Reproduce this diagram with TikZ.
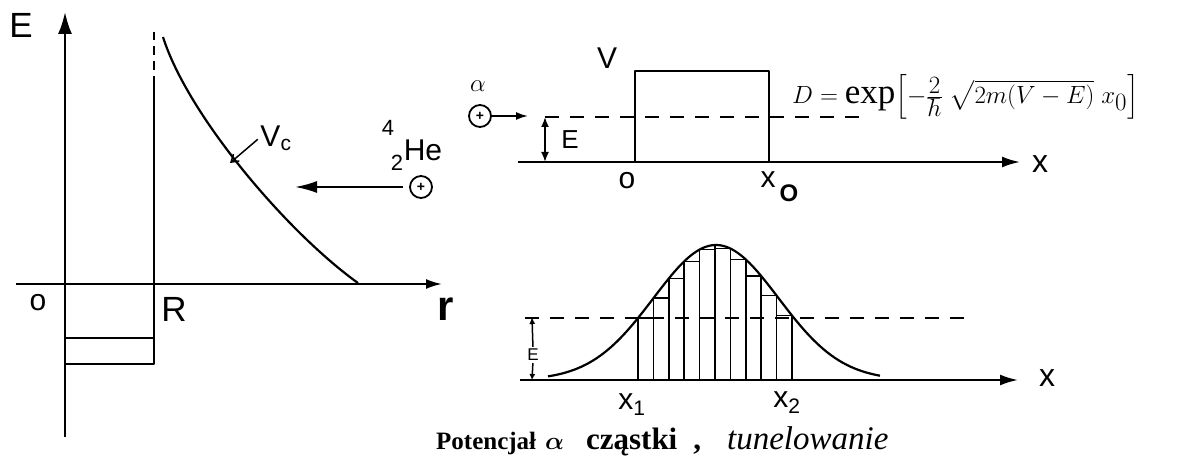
\documentclass[tikz,border=0pt]{standalone}
\usepackage{amsmath}
\usepackage{fontspec}
\setmainfont{Liberation Serif}
\setsansfont{Liberation Sans}
\usetikzlibrary{arrows.meta}

\tikzset{
  axis/.style={line width=2.2pt, -{Latex[length=18pt,width=11pt]}},
  hand/.style={font=\sffamily\fontsize{30}{30}\selectfont, inner sep=1pt},
  handsmall/.style={font=\sffamily\fontsize{22}{22}\selectfont, inner sep=1pt},
  ion/.style={circle, draw, line width=1.8pt, minimum size=22pt, inner sep=0pt,
    font=\sffamily\bfseries\fontsize{14}{14}\selectfont},
  level/.style={line width=1.8pt, dash pattern=on 14pt off 11pt},
  bar/.style={line width=1.6pt},
}

\begin{document}
\begin{tikzpicture}[x=1pt, y=-1pt, line join=round]
  \useasboundingbox (0,0) rectangle (1178,457);
  \def\g#1{380-135*exp(-((#1-716)/88.4)^2)}

  \draw[axis, -{Latex[length=22pt,width=14pt]}] (65,437) -- (65,12);
  \draw[axis, -{Latex[length=16pt,width=10pt]}] (16,284) -- (442,284);
  \node[hand, font=\sffamily\fontsize{35}{35}\selectfont] (elab) at (21,25) {E};
  \node[hand] (olab) at (38,303) {o};
  \node[hand, font=\sffamily\fontsize{35}{35}\selectfont] (rlab) at (174,309) {R};
  \node[font=\sffamily\bfseries\fontsize{42}{42}\selectfont, inner sep=0pt] (raxis) at (446,309) {r};

  \draw[line width=1.6pt] (65,364) -- (154,364) -- (154,85);
  \draw[line width=2.4pt] (65,338) -- (154,338);
  \draw[line width=1.8pt, dash pattern=on 9pt off 6pt] (154,85) -- (154,32);
  \draw[line width=2.2pt] (163,37) .. controls (188,116) and (288,233) .. (358,283);

  \node[hand] (vc) at (276,138) {V\textsubscript{c}};
  \coordinate (vcend) at (230,163);
  \draw[line width=1.5pt, -{Straight Barb[length=7pt,width=9pt]}, shorten <=2pt] (vc.west) -- (vcend);

  \node[hand] (he) at (423,150) {He};
  \node[handsmall] (hemass) at (388,128) {4};
  \node[handsmall] (hecharge) at (397,163) {2};
  \node[ion] (heion) at (421,187) {+};
  \coordinate (hetip) at (295,187);
  \draw[line width=2pt, -{Latex[length=22pt,width=12pt]}, shorten <=6pt] (heion.west) -- (hetip);

  \node[font=\fontsize{36}{36}\selectfont, inner sep=0pt] (alab) at (478,86) {$\alpha$};
  \node[ion] (aion) at (480,116) {+};
  \coordinate (atip) at (528,116);
  \draw[line width=1.8pt, -{Latex[length=12pt,width=8pt]}] (aion.east) -- (atip);
  \draw[level] (545,117) -- (867,117);
  \draw[line width=2pt] (635,162) -- (635,71) -- (769,71) -- (769,162);
  \draw[axis] (518,162) -- (1020,162);
  \draw[line width=1.8pt, {Latex[length=10pt,width=8pt]}-{Latex[length=10pt,width=8pt]}] (545,117) -- (545,162);
  \node[hand, font=\sffamily\fontsize{26}{26}\selectfont] (etop) at (570,140) {E};
  \node[hand] (vlab) at (607,58) {V};
  \node[hand] (otop) at (627,181) {o};
  \node[hand] (xzero) at (768,180) {x};
  \node[font=\sffamily\bfseries\fontsize{24}{24}\selectfont] (xzerosub) at (789,193) {O};
  \node[hand, font=\sffamily\fontsize{32}{32}\selectfont] (xtop) at (1040,164) {x};
  \node[font=\fontsize{35}{38}\selectfont, anchor=west, inner sep=0pt] (formula) at (792,97) {$D=\exp\Bigl[-\frac{2}{\hbar}\;\sqrt{2m(V-E)}\;x_0\Bigr]$};

  \draw[axis] (520,380) -- (1018,380);
  \node[hand, font=\sffamily\fontsize{32}{32}\selectfont] (xbot) at (1047,378) {x};
  \draw[level] (525,318) -- (968,318);
  \draw[line width=2.2pt] plot[domain=548:880, samples=90] (\x, {\g{\x}});
  \foreach \i in {0,...,10} {
    \pgfmathsetmacro\bx{638+15.4*\i}
    \pgfmathsetmacro\by{\g{\bx}}
    \draw[bar] (\bx,380) -- (\bx,\by);
  }
  \foreach \i in {0,...,9} {
    \pgfmathsetmacro\bx{638+15.4*\i}
    \pgfmathsetmacro\cx{\bx+15.4}
    \pgfmathsetmacro\by{380-135*exp(-(max(abs(\bx-716),abs(\cx-716))/88.4)^2)}
    \draw[bar] (\bx,\by) -- (\cx,\by);
  }
  \node[font=\sffamily\fontsize{17}{17}\selectfont, inner sep=0pt] (ebot) at (533,355) {E};
  \coordinate (elevel) at (532,317);
  \coordinate (ezero) at (532,380);
  \draw[line width=1.5pt, -{Latex[length=7pt,width=6pt]}, shorten <=2pt] (ebot.north) -- (elevel);
  \draw[line width=1.5pt, -{Latex[length=6pt,width=6pt]}, shorten <=2pt] (ebot.south) -- (ezero);
  \node[hand] (xone) at (632,405) {x\textsubscript{1}};
  \node[hand] (xtwo) at (787,403) {x\textsubscript{2}};

  \node[anchor=west, inner sep=0pt] (caption) at (436,441) {\fontsize{25}{28}\selectfont\textbf{Potencjał}\hspace{9pt}\fontsize{30}{30}\selectfont$\boldsymbol{\alpha}$\hspace{22pt}\fontsize{31}{32}\selectfont\textbf{cząstki}\hspace{16pt}\textbf{,}\hspace{26pt}\fontsize{33}{34}\selectfont\textit{tunelowanie}};
\end{tikzpicture}
\end{document}
